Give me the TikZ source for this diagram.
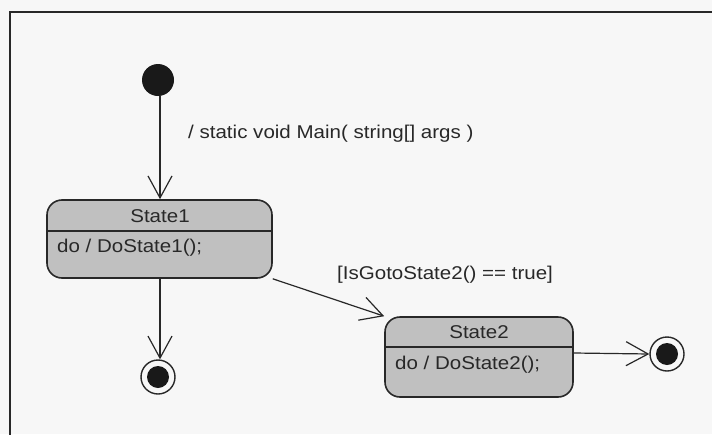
\documentclass[tikz,border=0pt]{standalone}
\usepackage{fontspec}
\setmainfont[FakeStretch=1.11]{Liberation Sans}
\usetikzlibrary{arrows.meta}
\usetikzlibrary{positioning}
\definecolor{paper}{RGB}{247,247,247}
\definecolor{ink}{RGB}{40,40,40}
\definecolor{statefill}{RGB}{192,192,192}

\begin{document}
\begin{tikzpicture}[x=1pt, y=-1pt,
    statebox/.style={draw=ink, line width=1.6pt, fill=statefill, rounded corners=15pt, inner sep=0pt},
    initstate/.style={circle, fill=black!90, inner sep=0pt, minimum size=32pt},
    finalstate/.style={circle, draw=ink, line width=1.4pt, fill=paper, inner sep=0pt, minimum size=34pt,
        path picture={\fill[black!90] (path picture bounding box.center) circle (11pt);}},
    trans/.style={draw=ink, line width=1.2pt, -{Straight Barb[length=22pt, width=24pt]}},
    txt/.style={font=\fontsize{18.5}{20}\selectfont, text=ink, inner sep=0pt}]
\useasboundingbox (0,0) rectangle (712,434);
\clip (0,0) rectangle (712,434);
\fill[paper] (0,0) rectangle (712,434);
% frame of the diagram
\draw[ink, line width=1.6pt] (10,450) -- (10,12) -- (730,12);

% states
\node[initstate] (init) at (158,80) {};
\node[statebox, minimum width=225pt, minimum height=78pt] (state1) at (159.5,239) {};
\draw[ink, line width=1.6pt] (state1.west |- 0,231) -- (state1.east |- 0,231);
\node[txt] (state1name) at (160,216) {State1};
\node[txt, anchor=west] (state1do) at (57,248) {do / DoState1();};

\node[statebox, minimum width=188pt, minimum height=80pt] (state2) at (479,357) {};
\draw[ink, line width=1.6pt] (state2.west |- 0,347) -- (state2.east |- 0,347);
\node[txt] (state2name) at (479,332) {State2};
\node[txt, anchor=west] (state2do) at (395,365) {do / DoState2();};

\node[finalstate] (final1) at (158,377) {};
\node[finalstate] (final2) at (667,354) {};

% transitions
\draw[trans] (init.south -| 160,0) -- (state1.north -| 160,0);
\node[txt, anchor=west] (mainlabel) at (188,134) {/ static void Main( string[] args )};
\draw[trans] (state1.south -| 160,0) -- (final1.north -| 160,0);
\draw[trans] (state1.south east) -- (state2.north west);
\node[txt, anchor=west] (guardlabel) at (337,275) {[IsGotoState2() == true]};
\coordinate (state2out) at (state2.east |- 0,353);
\draw[trans] (state2out) -- (final2.west);

\end{tikzpicture}
\end{document}
